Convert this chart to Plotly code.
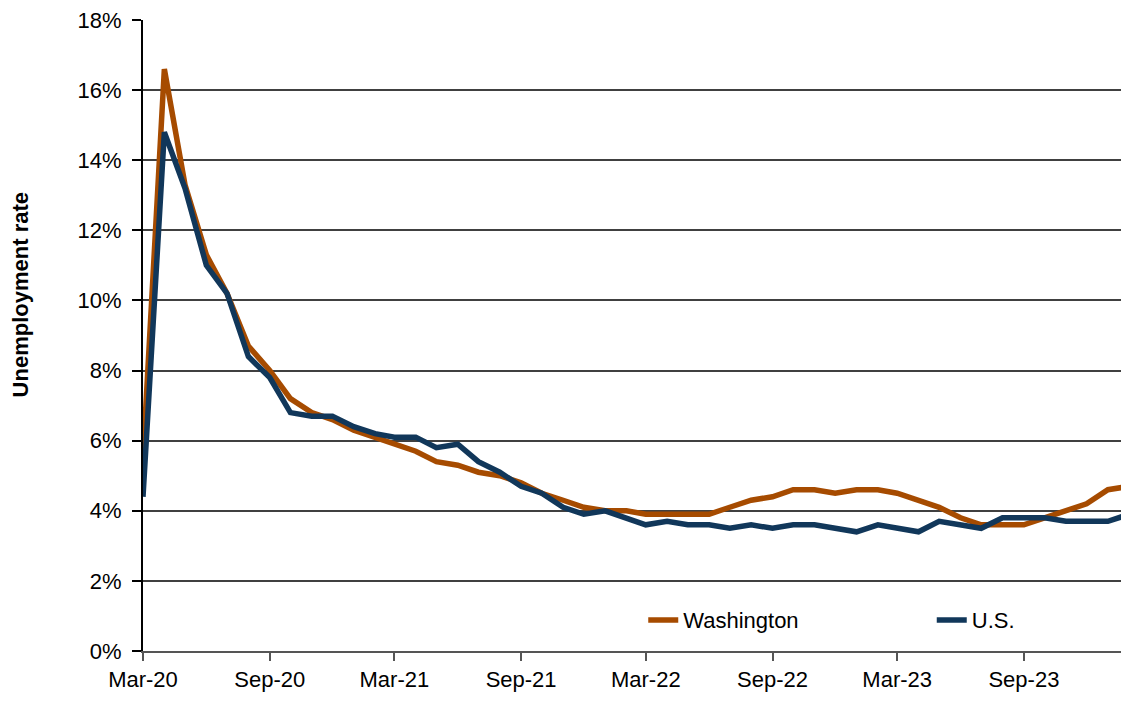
import plotly.graph_objects as go

# monthly unemployment rate, Mar-20 .. Feb-24
months = ['2020-03-01', '2020-04-01', '2020-05-01', '2020-06-01', '2020-07-01', '2020-08-01',
          '2020-09-01', '2020-10-01', '2020-11-01', '2020-12-01', '2021-01-01', '2021-02-01',
          '2021-03-01', '2021-04-01', '2021-05-01', '2021-06-01', '2021-07-01', '2021-08-01',
          '2021-09-01', '2021-10-01', '2021-11-01', '2021-12-01', '2022-01-01', '2022-02-01',
          '2022-03-01', '2022-04-01', '2022-05-01', '2022-06-01', '2022-07-01', '2022-08-01',
          '2022-09-01', '2022-10-01', '2022-11-01', '2022-12-01', '2023-01-01', '2023-02-01',
          '2023-03-01', '2023-04-01', '2023-05-01', '2023-06-01', '2023-07-01', '2023-08-01',
          '2023-09-01', '2023-10-01', '2023-11-01', '2023-12-01', '2024-01-01', '2024-02-01']

washington = [5.5, 16.6, 13.3, 11.3, 10.2, 8.7, 8.0, 7.2, 6.8, 6.6, 6.3, 6.1,
              5.9, 5.7, 5.4, 5.3, 5.1, 5.0, 4.8, 4.5, 4.3, 4.1, 4.0, 4.0,
              3.9, 3.9, 3.9, 3.9, 4.1, 4.3, 4.4, 4.6, 4.6, 4.5, 4.6, 4.6,
              4.5, 4.3, 4.1, 3.8, 3.6, 3.6, 3.6, 3.8, 4.0, 4.2, 4.6, 4.7]

us = [4.4, 14.8, 13.2, 11.0, 10.2, 8.4, 7.8, 6.8, 6.7, 6.7, 6.4, 6.2,
      6.1, 6.1, 5.8, 5.9, 5.4, 5.1, 4.7, 4.5, 4.1, 3.9, 4.0, 3.8,
      3.6, 3.7, 3.6, 3.6, 3.5, 3.6, 3.5, 3.6, 3.6, 3.5, 3.4, 3.6,
      3.5, 3.4, 3.7, 3.6, 3.5, 3.8, 3.8, 3.8, 3.7, 3.7, 3.7, 3.9]

tick_dates = ['2020-03-01', '2020-09-01', '2021-03-01', '2021-09-01',
              '2022-03-01', '2022-09-01', '2023-03-01', '2023-09-01']
tick_labels = ['Mar-20', 'Sep-20', 'Mar-21', 'Sep-21', 'Mar-22', 'Sep-22', 'Mar-23', 'Sep-23']

ORANGE = '#A64B00'
NAVY = '#11375A'
FONT = 'Liberation Sans, Arial, sans-serif'

fig = go.Figure()
fig.add_trace(go.Scatter(x=months, y=washington, mode='lines', name='Washington',
                         line=dict(color=ORANGE, width=5.5), legend='legend'))
fig.add_trace(go.Scatter(x=months, y=us, mode='lines', name='U.S.',
                         line=dict(color=NAVY, width=5.5), legend='legend2'))

legend_style = dict(orientation='h', yanchor='middle', xanchor='left',
                    bgcolor='rgba(0,0,0,0)', itemwidth=30, font=dict(size=22))

fig.update_layout(
    width=1121, height=702,
    margin=dict(l=143, r=0, t=20, b=51),
    paper_bgcolor='white', plot_bgcolor='white',
    font=dict(family=FONT, size=22, color='black'),
    showlegend=True,
    legend=dict(x=0.5115, y=0.049, **legend_style),
    legend2=dict(x=0.8065, y=0.049, **legend_style),
    xaxis=dict(type='date', range=['2020-03-01', '2024-01-20'], automargin=False,
               tickvals=tick_dates, ticktext=tick_labels,
               showgrid=False, showline=True, linecolor='#555555', linewidth=2,
               ticks='outside', ticklen=8, tickwidth=1.5, tickcolor='#555555',
               zeroline=False),
    yaxis=dict(range=[0, 18], dtick=2, ticksuffix='%', automargin=False,
               showgrid=True, gridcolor='#404040', gridwidth=1.6,
               showline=True, linecolor='black', linewidth=2,
               ticks='outside', ticklen=9, tickwidth=1.5, tickcolor='black',
               ticklabelstandoff=6, zeroline=False),
    # axis title sits above the axis centre in the original, so place it by hand
    annotations=[dict(text='<b>Unemployment rate</b>', textangle=-90,
                      xref='paper', yref='paper', x=-0.1255, y=0.564,
                      xanchor='center', yanchor='middle', showarrow=False,
                      font=dict(size=22))],
)

# drop the default page margin so the figure sits at the top-left corner
fig.write_html("out.html", config={'displayModeBar': False},
               post_script="document.body.style.margin='0';document.body.style.overflow='hidden';")
